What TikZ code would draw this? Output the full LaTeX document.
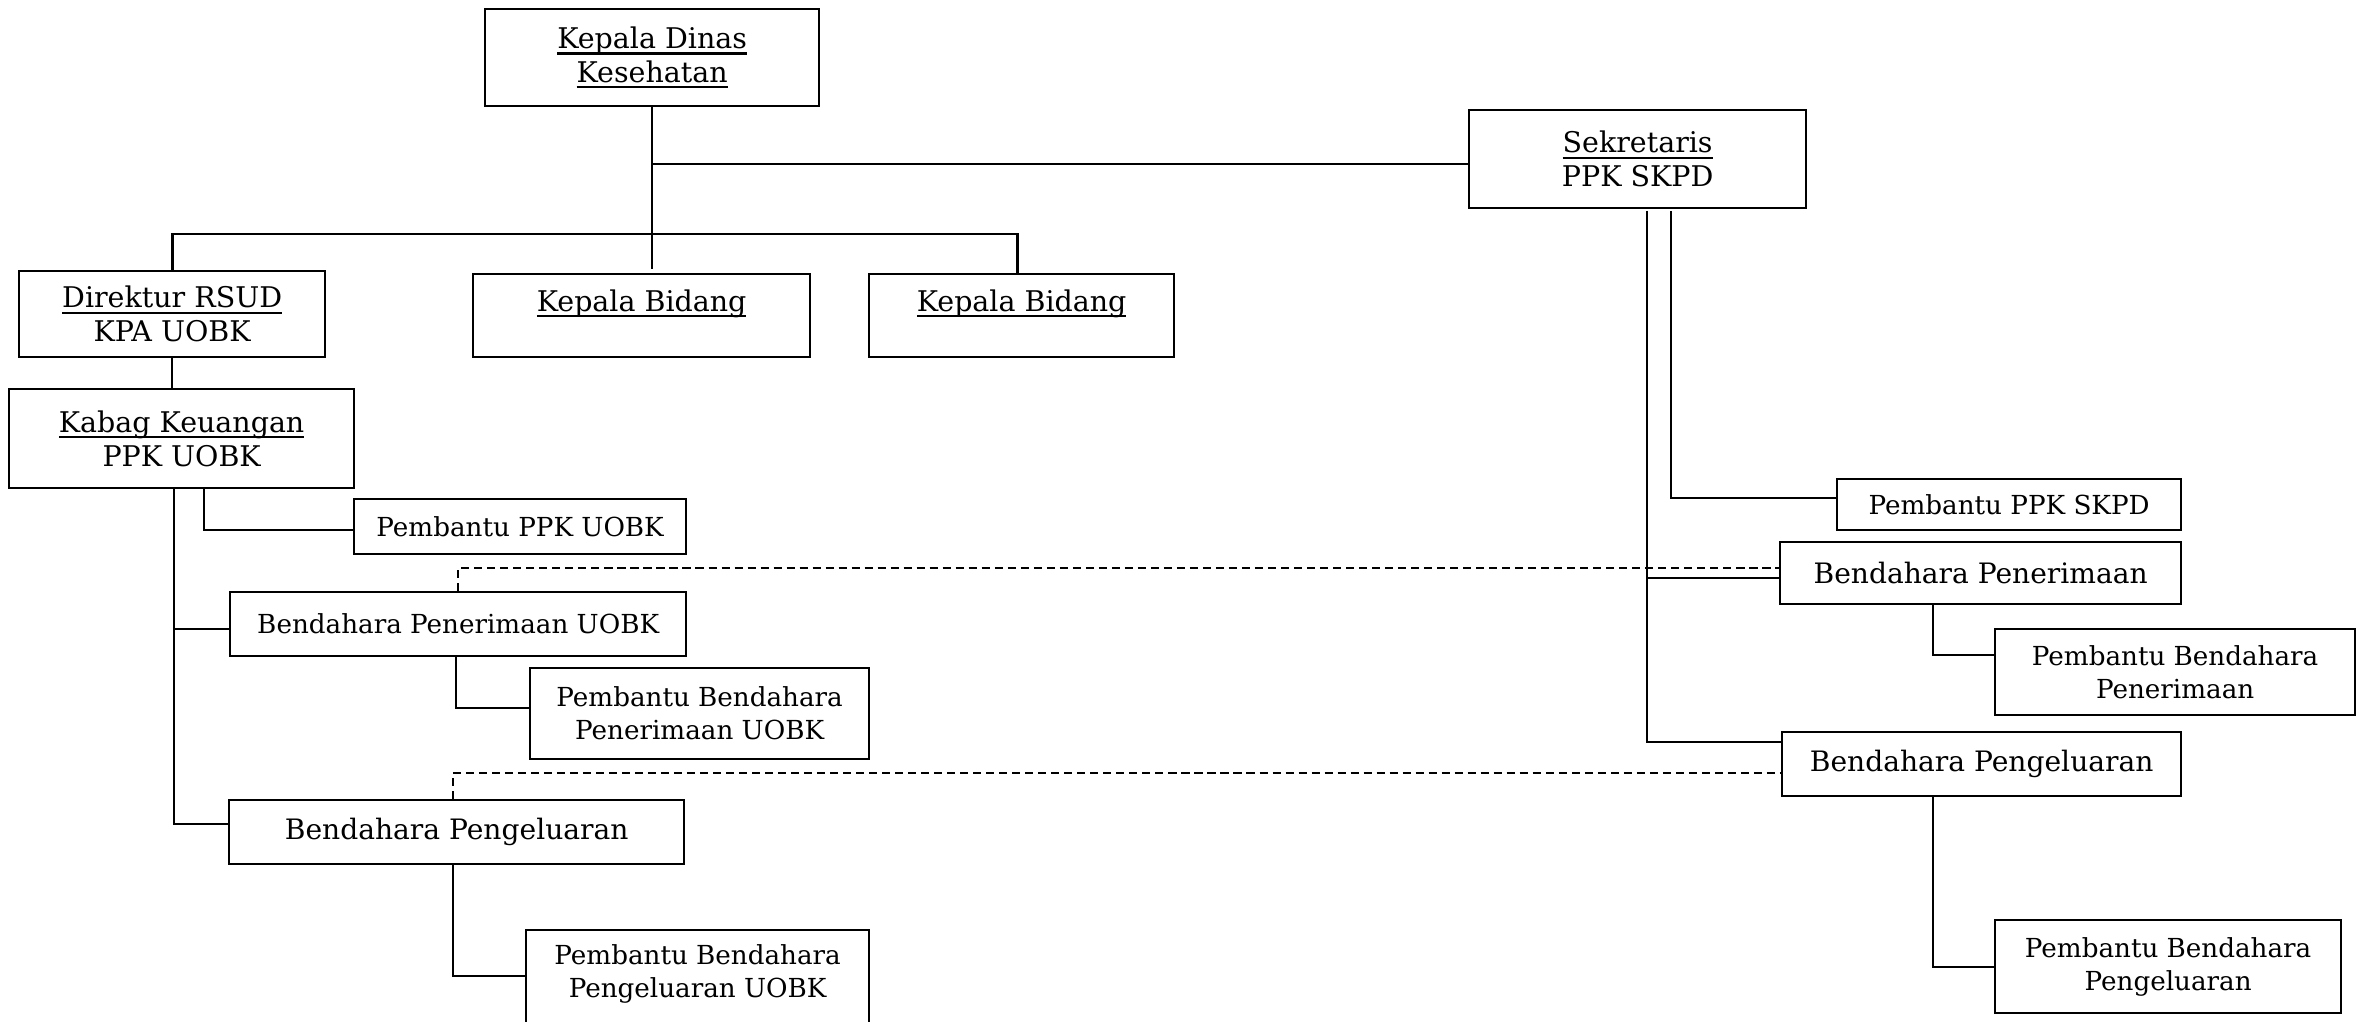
\documentclass[tikz,border=0pt]{standalone}
\usepackage{fontspec}
\setmainfont{DejaVu Serif}
\usetikzlibrary{calc}

\newcommand{\gb}[1]{\setbox0\hbox{#1}\rlap{\raisebox{-1.7pt}{\rule{\wd0}{0.6pt}}}\box0}

\tikzset{
    jabatan/.style={draw, line width=0.6pt, inner sep=0pt, align=center, anchor=north west,
        font=\fontsize{7.45}{9.4}\selectfont},
    kepala/.style={jabatan, font=\fontsize{8.1}{9.6}\selectfont},
    besar/.style={font=\fontsize{8.0}{10}\selectfont},
    garis/.style={line width=0.6pt},
    putus/.style={line width=0.6pt, dash pattern=on 2.3pt off 1.4pt}
}

\begin{document}
\begin{tikzpicture}[x=0.01cm, y=-0.01cm]
    \useasboundingbox (0,0) rectangle (2365,1022);

    % pimpinan
    \node[kepala, minimum width=3.34cm, minimum height=0.97cm] (kadis) at (484,8)
        {\gb{Kepala Dinas}\\\gb{Kesehatan}};
    \node[kepala, minimum width=3.37cm, minimum height=0.98cm] (sekre) at (1468,109)
        {\gb{Sekretaris}\\PPK SKPD};
    \node[kepala, minimum width=3.06cm, minimum height=0.86cm] (dir) at (18,270)
        {\gb{Direktur RSUD}\\KPA UOBK};
    \node[kepala, minimum width=3.37cm, minimum height=0.83cm, text depth=0.3cm] (kabid1) at (472,273)
        {\gb{Kepala Bidang}};
    \node[kepala, minimum width=3.05cm, minimum height=0.83cm, text depth=0.3cm] (kabid2) at (868,273)
        {\gb{Kepala Bidang}};

    % UOBK
    \node[kepala, minimum width=3.45cm, minimum height=0.99cm] (kabag) at (8,388)
        {\gb{Kabag Keuangan}\\PPK UOBK};
    \node[jabatan, minimum width=3.32cm, minimum height=0.55cm] (pppk) at (353,498)
        {Pembantu PPK UOBK};
    \node[jabatan, minimum width=4.56cm, minimum height=0.64cm] (bpu) at (229,591)
        {Bendahara Penerimaan UOBK};
    \node[jabatan, minimum width=3.39cm, minimum height=0.91cm] (pbpu) at (529,667)
        {Pembantu Bendahara\\Penerimaan UOBK};
    \node[jabatan, besar, minimum width=4.55cm, minimum height=0.64cm] (bpgu) at (228,799)
        {Bendahara Pengeluaran};
    \node[jabatan, minimum width=3.43cm, minimum height=1.27cm, text depth=0.45cm] (pbpgu) at (525,929)
        {Pembantu Bendahara\\Pengeluaran UOBK};

    % SKPD
    \node[jabatan, minimum width=3.44cm, minimum height=0.51cm] (ppkskpd) at (1836,478)
        {Pembantu PPK SKPD};
    \node[jabatan, besar, minimum width=4.01cm, minimum height=0.62cm] (bpr) at (1779,541)
        {Bendahara Penerimaan};
    \node[jabatan, minimum width=3.60cm, minimum height=0.86cm] (pbpr) at (1994,628)
        {Pembantu Bendahara\\Penerimaan};
    \node[jabatan, besar, minimum width=3.99cm, minimum height=0.64cm] (bpgr) at (1781,731)
        {Bendahara Pengeluaran};
    \node[jabatan, minimum width=3.46cm, minimum height=0.93cm] (pbpgr) at (1994,919)
        {Pembantu Bendahara\\Pengeluaran};

    % garis komando
    \draw[garis] (kadis.south) -- ++(0,162);
    \draw[garis] (kadis.south |- 0,164) -- (sekre.west |- 0,164);
    \draw[line width=0.8pt] (dir.north) -- ++(0,-36) -| ($(kabid2.north)+(-4,0)$);
    \draw[garis] (dir.south) -- (dir.south |- kabag.north);

    \coordinate (spineL) at (174,489);
    \draw[garis] (spineL) |- ($(bpu.west)+(0,5)$);
    \draw[garis] (spineL) |- ($(bpgu.west)+(0,-8)$);
    \draw[garis] (204,489) |- ($(pppk.west)+(0,3)$);
    \draw[garis] ($(bpu.south)+(-2,0)$) |- ($(pbpu.west)+(0,-6)$);
    \draw[garis] ($(bpgu.south)+(-4,0)$) |- (pbpgu.north west |- 0,976);

    \coordinate (spineR) at (1647,211);
    \draw[garis] (spineR) |- ($(bpr.west)+(0,5)$);
    \draw[garis] (spineR) |- ($(bpgr.west)+(0,-22)$);
    \draw[garis] (1671,211) |- ($(ppkskpd.west)+(0,-7)$);
    \draw[garis] (bpr.south -| 1933,0) |- ($(pbpr.west)+(0,-17)$);
    \draw[garis] (bpgr.south -| 1933,0) |- (pbpgr.west);

    % garis koordinasi
    \draw[putus] (bpu.north) |- ($(bpr.west)+(0,-5)$);
    \draw[putus] ($(bpgu.north)+(-4,0)$) |- ($(bpgr.west)+(0,9)$);
\end{tikzpicture}
\end{document}
